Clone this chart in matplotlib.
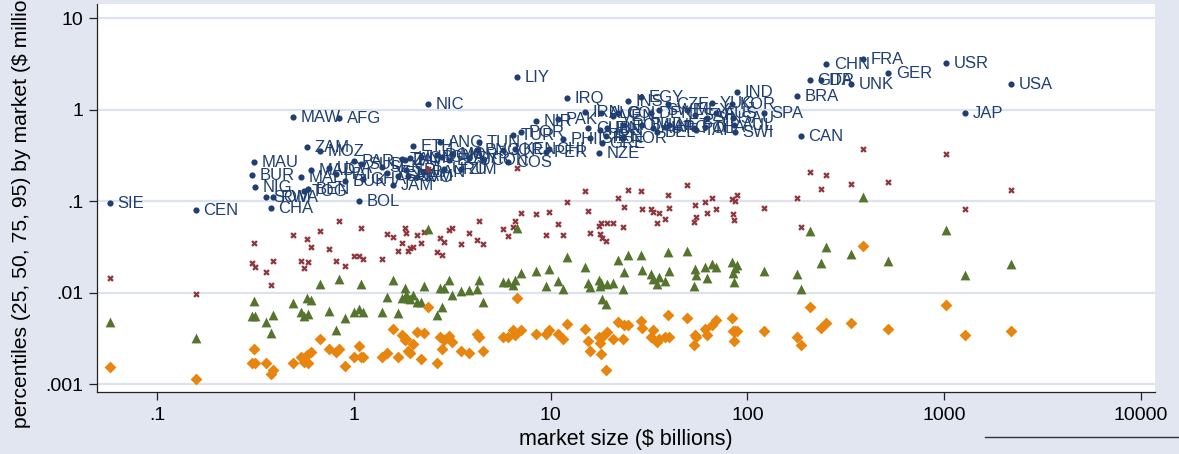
import matplotlib
matplotlib.use("Agg")
import matplotlib.pyplot as plt
from matplotlib.lines import Line2D

plt.rcParams["font.family"] = ["Liberation Sans", "DejaVu Sans"]

# =========================
# data
# =========================
countries = [
    "SIE", "CEN", "BUR", "MAU", "NIG", "SOM", "CHA", "RWA", "MAW", "MAL",
    "TOG", "ZAM", "BEN", "MAD", "MOZ", "UGA", "HAI", "AFG", "BUK", "PAR",
    "BOL", "SUD", "GHA", "SEN", "YEM", "JAM", "SAL", "TAN", "ZAI", "SRI",
    "CAM", "HON", "ETH", "IVO", "LIB", "BAN", "NIC", "DOM", "ANG", "GUA",
    "URU", "ECU", "MOR", "ZIM", "SYR", "PNG", "TUN", "CON", "JOR", "COS",
    "TUR", "KEN", "LIY", "POR", "NIR", "PER", "CHI", "PAK", "PHI", "IRQ",
    "IRN", "CUB", "ISR", "NZE", "HUN", "ALG", "GRE", "IRE", "FIN", "VEN",
    "COL", "NOR", "ROM", "INS", "EGY", "BUL", "DEN", "AUT", "BEL", "SWE",
    "ARG", "CZE", "NET", "MEX", "POL", "SAF", "TAI", "THA", "SIN", "YUG",
    "AUS", "KOR", "SAU", "AUL", "SWI", "IND", "SPA", "BRA", "CAN", "GDR",
    "ITA", "CHN", "UNK", "FRA", "GER", "USR", "JAP", "USA",
]

# market size, $ billions
market_size = [
    0.0575, 0.157, 0.303, 0.31, 0.314, 0.357, 0.378, 0.387, 0.49, 0.538,
    0.557, 0.577, 0.583, 0.604, 0.672, 0.746, 0.81, 0.839, 0.90, 1.0,
    1.06, 1.085, 1.11, 1.388, 1.472, 1.579, 1.674, 1.754, 1.817, 1.838,
    1.882, 1.926, 1.995, 2.09, 2.19, 2.27, 2.38, 2.64, 2.74, 2.80,
    2.87, 3.04, 3.15, 3.50, 3.84, 4.22, 4.32, 4.53, 5.72, 6.07,
    6.43, 6.58, 6.74, 7.06, 8.42, 9.47, 9.80, 10.9, 11.55, 12.1,
    14.9, 15.5, 15.8, 17.6, 17.8, 18.0, 18.2, 19.1, 19.3, 20.7,
    22.0, 23.3, 23.6, 24.7, 28.8, 29.1, 32.4, 33.1, 34.7, 35.5,
    38.1, 39.5, 39.9, 49.3, 53.5, 54.2, 54.8, 60.9, 62.3, 66.1,
    69.3, 83.5, 84.0, 85.5, 86.5, 88.5, 121, 179, 187, 208,
    237, 251, 336, 387, 519, 1023, 1277, 2188,
]

# percentiles by market, $ millions
p95 = [
    0.0963, 0.0807, 0.195, 0.27, 0.144, 0.112, 0.0849, 0.112, 0.839, 0.185,
    0.13, 0.394, 0.137, 0.221, 0.356, 0.232, 0.20, 0.818, 0.168, 0.277,
    0.101, 0.257, 0.176, 0.238, 0.205, 0.151, 0.19, 0.291, 0.284, 0.221,
    0.19, 0.299, 0.404, 0.185, 0.306, 0.21, 1.16, 0.322, 0.447, 0.306,
    0.226, 0.284, 0.33, 0.226, 0.299, 0.365, 0.447, 0.284, 0.365, 0.27,
    0.533, 0.375, 2.29, 0.575, 0.758, 0.348, 0.375, 0.797, 0.482, 1.35,
    0.95, 0.636, 0.494, 0.339, 0.604, 0.927, 0.436, 0.52, 0.636, 0.86,
    0.927, 0.494, 0.686, 1.25, 1.39, 0.686, 0.927, 0.636, 0.575, 1.0,
    0.652, 1.16, 0.686, 1.0, 0.636, 0.882, 0.604, 0.652, 0.818, 1.19,
    0.927, 1.16, 0.818, 0.686, 0.575, 1.57, 0.927, 1.42, 0.52, 2.13,
    2.13, 3.18, 1.92, 3.61, 2.54, 3.26, 0.927, 1.92,
]
p75 = [
    0.0146, 0.00975, 0.0213, 0.0352, 0.0192, 0.017, 0.0122, 0.0224, 0.043, 0.0224,
    0.0188, 0.0389, 0.0218, 0.0318, 0.0476, 0.0303, 0.0224, 0.0612, 0.0197, 0.0254,
    0.0254, 0.0513, 0.0235, 0.0235, 0.0441, 0.0409, 0.0288, 0.0352, 0.0513, 0.0452,
    0.0288, 0.031, 0.0318, 0.043, 0.0352, 0.0464, 0.226, 0.0281, 0.0399, 0.026,
    0.0361, 0.0488, 0.0513, 0.0343, 0.0452, 0.038, 0.0612, 0.0343, 0.05, 0.042,
    0.0526, 0.0612, 0.232, 0.0749, 0.073, 0.043, 0.0768, 0.0568, 0.043, 0.0987,
    0.13, 0.0787, 0.0452, 0.054, 0.0441, 0.0582, 0.0399, 0.037, 0.0582, 0.0582,
    0.109, 0.0526, 0.0871, 0.1336, 0.13, 0.0828, 0.0828, 0.0768, 0.0582, 0.0749,
    0.0644, 0.118, 0.0849, 0.151, 0.0597, 0.0916, 0.0677, 0.0987, 0.0749, 0.109,
    0.0828, 0.1065, 0.073, 0.0628, 0.101, 0.118, 0.0849, 0.109, 0.0526, 0.21,
    0.137, 0.195, 0.155, 0.375, 0.163, 0.33, 0.0828, 0.1336,
]
p50 = [
    0.00482, 0.00322, 0.00561, 0.00818, 0.00561, 0.00482, 0.00365, 0.00575, 0.00778, 0.0062,
    0.00561, 0.00882, 0.0059, 0.00839, 0.0125, 0.00636, 0.00394, 0.0142, 0.00533, 0.0062,
    0.00669, 0.0125, 0.0062, 0.0062, 0.00904, 0.0139, 0.00605, 0.00882, 0.0113, 0.0095,
    0.00882, 0.0086, 0.0095, 0.00797, 0.00797, 0.0119, 0.05, 0.00575, 0.0113, 0.00703,
    0.0113, 0.0139, 0.0095, 0.0105, 0.0108, 0.0111, 0.0139, 0.00797, 0.0132, 0.0132,
    0.0122, 0.0139, 0.0513, 0.0165, 0.0174, 0.0119, 0.0183, 0.0135, 0.0111, 0.0247,
    0.0192, 0.0129, 0.0116, 0.0139, 0.0119, 0.0129, 0.0086, 0.00758, 0.0125, 0.0129,
    0.0229, 0.0111, 0.017, 0.026, 0.026, 0.0178, 0.0161, 0.0142, 0.0125, 0.015,
    0.0135, 0.0281, 0.0174, 0.0288, 0.0119, 0.0183, 0.0157, 0.0192, 0.0146, 0.0207,
    0.0192, 0.0218, 0.0165, 0.0132, 0.0188, 0.0202, 0.0174, 0.0161, 0.0111, 0.0476,
    0.0213, 0.0318, 0.0267, 0.112, 0.0224, 0.0488, 0.0157, 0.0207,
]
p25 = [
    0.00155, 0.00115, 0.00172, 0.00244, 0.00172, 0.00172, 0.0013, 0.00144, 0.00172, 0.002,
    0.00176, 0.0021, 0.00172, 0.00226, 0.00314, 0.00244, 0.00226, 0.00244, 0.00159, 0.002,
    0.00264, 0.002, 0.002, 0.002, 0.00221, 0.00404, 0.002, 0.00348, 0.00306, 0.00314,
    0.00232, 0.00221, 0.00277, 0.00375, 0.0019, 0.00365, 0.00703, 0.00172, 0.0033, 0.00244,
    0.00306, 0.00339, 0.00291, 0.00232, 0.00221, 0.00356, 0.0033, 0.00232, 0.0033, 0.0033,
    0.00394, 0.00348, 0.00882, 0.00394, 0.00356, 0.00356, 0.00394, 0.00356, 0.00314, 0.00458,
    0.00404, 0.00299, 0.00232, 0.0033, 0.00284, 0.00215, 0.0033, 0.00144, 0.00375, 0.00314,
    0.00482, 0.00314, 0.00447, 0.00447, 0.00494, 0.00414, 0.0033, 0.00394, 0.00291, 0.00314,
    0.0033, 0.00575, 0.0033, 0.00533, 0.0027, 0.00348, 0.0033, 0.00404, 0.00348, 0.00447,
    0.00507, 0.00533, 0.00384, 0.00299, 0.00384, 0.00384, 0.00384, 0.0033, 0.0027, 0.00703,
    0.00414, 0.0047, 0.0047, 0.0326, 0.00404, 0.0074, 0.00348, 0.00384,
]

x_ticks = [0.1, 1, 10, 100, 1000, 10000]
x_tick_labels = [".1", "1", "10", "100", "1000", "10000"]
y_ticks = [0.001, 0.01, 0.1, 1, 10]
y_tick_labels = [".001", ".01", ".1", "1", "10"]

# =========================
# colours (Stata s2color look)
# =========================
BG = "#E1E6F0"
GRID = "#DCE2EE"
NAVY = "#1F3F72"
MAROON = "#90353B"
GREEN = "#55752F"
ORANGE = "#E8850E"

# =========================
# figure
# =========================
W, H = 1179, 454
fig = plt.figure(figsize=(W / 100, H / 100), dpi=100, facecolor=BG)
ax = fig.add_axes([97 / W, 62 / H, 1058 / W, 388 / H])
ax.set_facecolor("white")
ax.set_xscale("log")
ax.set_yscale("log")
ax.set_xlim(0.0494, 11800)
ax.set_ylim(0.000828, 14.4)

for yv in y_ticks:
    ax.axhline(yv, color=GRID, linewidth=1.6, zorder=0)

# 95th percentile, labelled
ax.scatter(market_size, p95, s=20, marker="o", color=NAVY, linewidths=0, zorder=3)
for name, xv, yv in zip(countries, market_size, p95):
    ax.annotate(name, (xv, yv), xytext=(5.5, -0.5), textcoords="offset points",
                ha="left", va="center", fontsize=12, color=NAVY, zorder=3)

ax.scatter(market_size, p75, s=22, marker="X", color=MAROON, linewidths=0, zorder=4)
ax.scatter(market_size, p50, s=50, marker="^", color=GREEN, linewidths=0, zorder=4)
ax.scatter(market_size, p25, s=36, marker="D", color=ORANGE, linewidths=0, zorder=4)

# =========================
# axes decoration
# =========================
ax.minorticks_off()
ax.set_xticks(x_ticks)
ax.set_xticklabels(x_tick_labels)
ax.set_yticks(y_ticks)
ax.set_yticklabels(y_tick_labels)
ax.tick_params(axis="both", direction="out", length=6, width=0.9, color="#222222",
               labelsize=14, labelcolor="black")
ax.tick_params(axis="x", pad=4.5)
ax.tick_params(axis="y", pad=4)

for side in ["top", "right"]:
    ax.spines[side].set_visible(False)
for side in ["left", "bottom"]:
    ax.spines[side].set_color("#222222")
    ax.spines[side].set_linewidth(0.9)

fig.text(626 / W, 1 - 439 / H, "market size ($ billions)", ha="center", va="center",
         fontsize=15.5, color="black")
fig.text(22 / W, 1 - 428 / H, "percentiles (25, 50, 75, 95) by market ($ millions)",
         rotation=90, ha="center", va="bottom", fontsize=15.2, color="black")

fig.add_artist(Line2D([985 / W, 1.0], [1 - 437 / H, 1 - 437 / H], color="#333333",
                      linewidth=1.0))

fig.savefig("out.png", dpi=100, facecolor=BG)
